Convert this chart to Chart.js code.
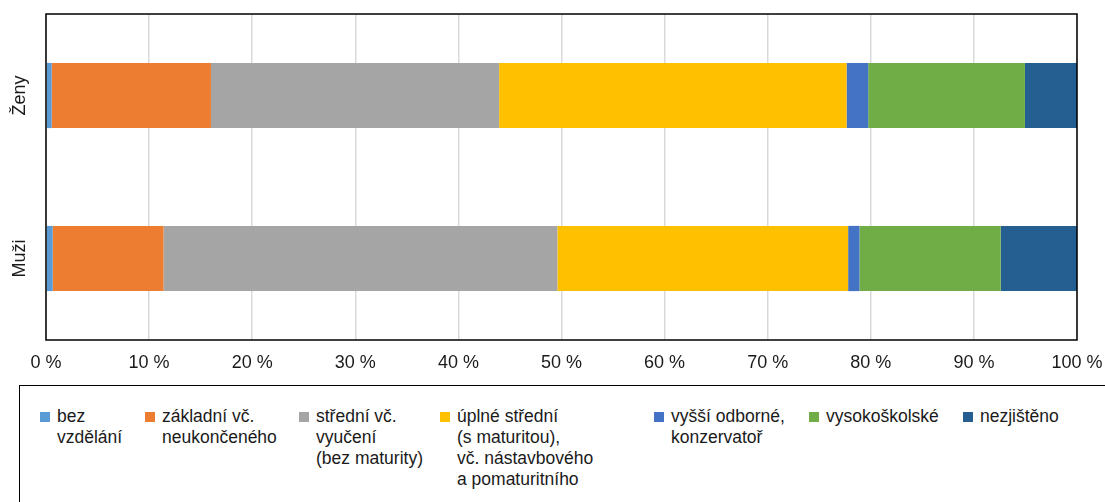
<!DOCTYPE html>
<html lang="cs">
<head>
<meta charset="utf-8">
<script src="https://cdn.jsdelivr.net/npm/chart.js@4/dist/chart.umd.min.js"></script>
<style>
  html, body { margin: 0; padding: 0; background: #fff; overflow: hidden; }
  body { width: 1105px; height: 502px; position: relative; font-family: "Liberation Sans", Arial, sans-serif; }
  #chartWrap { position: absolute; left: 0; top: 0; width: 1105px; height: 380px; }
  #legendBox {
    position: absolute; left: 19px; top: 385px; width: 1120px; height: 140px;
    border: 1.5px solid #000; box-sizing: border-box;
  }
  .lg-box { position: absolute; width: 10px; height: 10px; top: 412px; }
  .lg-text {
    position: absolute; top: 406px; font-size: 17.5px; line-height: 21px;
    color: #1a1a1a; white-space: pre;
  }
</style>
</head>
<body>
<div id="chartWrap"><canvas id="eduChart"></canvas></div>
<div id="legendBox"></div>
<div id="legend"></div>

<script>
// ─── Data ───────────────────────────────────────────────
const categories = ['Ženy', 'Muži'];

const seriesLabels = [
  'bez\nvzdělání',
  'základní vč.\nneukončeného',
  'střední vč.\nvyučení\n(bez maturity)',
  'úplné střední\n(s maturitou),\nvč. nástavbového\na pomaturitního',
  'vyšší odborné,\nkonzervatoř',
  'vysokoškolské',
  'nezjištěno'
];

// share in % for [Ženy, Muži]
const bezVzdelani  = [0.55, 0.65];
const zakladni     = [15.45, 10.75];
const stredniVyuc  = [27.95, 38.2];
const uplneStredni = [33.7, 28.2];
const vyssiOdborne = [2.1, 1.1];
const vysokoskol   = [15.2, 13.7];
const nezjisteno   = [5.05, 7.4];

const xTicks = [0, 10, 20, 30, 40, 50, 60, 70, 80, 90, 100];

const colors = ['#5B9BD5', '#ED7D31', '#A5A5A5', '#FFC000', '#4472C4', '#70AD47', '#255E91'];
const seriesValues = [bezVzdelani, zakladni, stredniVyuc, uplneStredni, vyssiOdborne, vysokoskol, nezjisteno];

// legend marker x positions in the box
const legendX = [40, 145, 299, 440, 654, 809, 963];

const FONT = "'Liberation Sans', Arial, sans-serif";

// ─── Plugins ────────────────────────────────────────────
const frame = {
  id: 'frame',
  afterDatasetsDraw(chart) {
    const { ctx, chartArea: a } = chart;
    ctx.save();
    ctx.strokeStyle = '#000';
    ctx.lineWidth = 1.5;
    ctx.strokeRect(a.left, a.top, a.right - a.left, a.bottom - a.top);
    ctx.restore();
  }
};

// rotated category labels, placed through the y scale
const catLabels = {
  id: 'catLabels',
  afterDraw(chart) {
    const { ctx } = chart;
    const y = chart.scales.y;
    ctx.save();
    ctx.fillStyle = '#1a1a1a';
    ctx.font = `18px ${FONT}`;
    ctx.textAlign = 'center';
    ctx.textBaseline = 'alphabetic';
    categories.forEach((c, i) => {
      ctx.save();
      ctx.translate(25, y.getPixelForValue(i));
      ctx.rotate(-Math.PI / 2);
      ctx.fillText(c, 0, 0);
      ctx.restore();
    });
    ctx.restore();
  }
};

// ─── Chart ──────────────────────────────────────────────
new Chart(document.getElementById('eduChart'), {
  type: 'bar',
  data: {
    labels: categories,
    datasets: seriesLabels.map((l, i) => ({
      label: l,
      data: seriesValues[i],
      backgroundColor: colors[i],
      borderWidth: 0,
      barPercentage: 1,
      categoryPercentage: 0.4
    }))
  },
  options: {
    indexAxis: 'y',
    responsive: true,
    maintainAspectRatio: false,
    animation: false,
    layout: { padding: { top: 14, right: 28, left: 0, bottom: 0 } },
    scales: {
      x: {
        stacked: true,
        min: 0,
        max: 100,
        afterBuildTicks: s => { s.ticks = xTicks.map(v => ({ value: v })); },
        afterFit: s => { s.height = 40; s.paddingLeft = 0; s.paddingRight = 0; },
        grid: { color: '#D9D9D9', lineWidth: 1.5, drawTicks: false },
        border: { display: false },
        ticks: {
          color: '#1a1a1a',
          padding: 12,
          font: { family: FONT, size: 18 },
          callback: v => v + ' %'
        }
      },
      y: {
        stacked: true,
        afterFit: s => { s.width = 46; },
        grid: { display: false },
        border: { display: false },
        ticks: { display: false }
      }
    },
    plugins: {
      legend: { display: false },
      tooltip: { enabled: false }
    }
  },
  plugins: [frame, catLabels]
});

// ─── HTML legend ────────────────────────────────────────
const legendEl = document.getElementById('legend');
seriesLabels.forEach((l, i) => {
  const box = document.createElement('div');
  box.className = 'lg-box';
  box.style.left = legendX[i] + 'px';
  box.style.background = colors[i];
  const txt = document.createElement('div');
  txt.className = 'lg-text';
  txt.style.left = (legendX[i] + 17) + 'px';
  txt.textContent = l;
  legendEl.appendChild(box);
  legendEl.appendChild(txt);
});
</script>
</body>
</html>
